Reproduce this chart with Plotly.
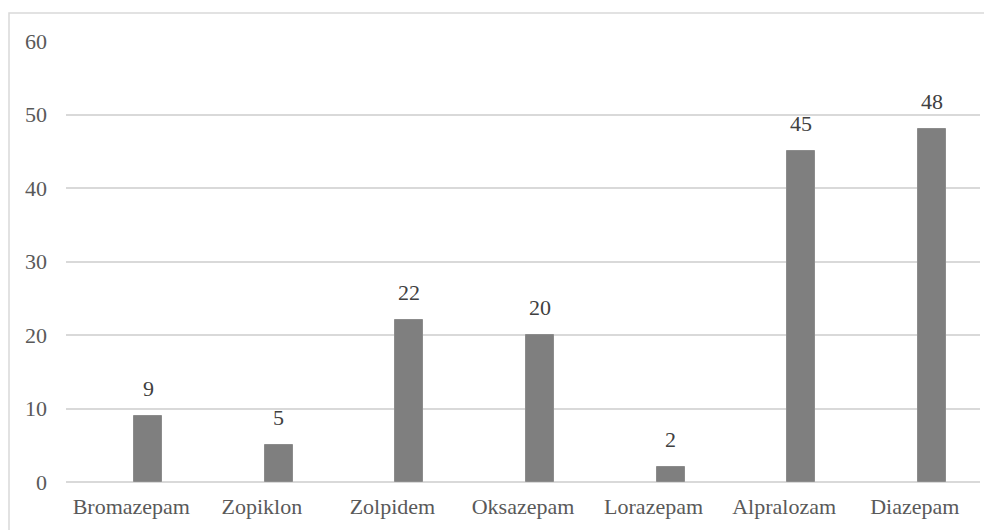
import plotly.graph_objects as go

categories = ["Bromazepam", "Zopiklon", "Zolpidem", "Oksazepam", "Lorazepam", "Alpralozam", "Diazepam"]
values = [9, 5, 22, 20, 2, 45, 48]
y_ticks = [0, 10, 20, 30, 40, 50, 60]

FONT = "'Liberation Serif', 'Times New Roman', serif"
BAR_W = 0.214
BAR_OFF = 0.023

fig = go.Figure()
fig.add_trace(go.Bar(
    x=categories, y=values,
    width=BAR_W, offset=BAR_OFF,
    marker=dict(color="#7f7f7f", line=dict(color="#8c8c8c", width=1)),
    hoverinfo="x+y",
))

for i, v in enumerate(values):
    fig.add_annotation(
        x=i + BAR_OFF + BAR_W / 2, y=v, xref="x", yref="y",
        text=str(v), showarrow=False, yanchor="bottom", yshift=13,
        font=dict(family=FONT, size=22, color="#404040"),
    )

fig.add_shape(type="rect", xref="paper", yref="paper",
              x0=(9 - 66) / 914, x1=1.2, y0=-0.3, y1=(482 - 13) / 441,
              line=dict(color="#d9d9d9", width=1.5), fillcolor="rgba(0,0,0,0)", layer="below")

fig.update_layout(
    width=984, height=522,
    margin=dict(l=58, r=12, t=33, b=48),
    paper_bgcolor="white", plot_bgcolor="white",
    showlegend=False,
    font=dict(family=FONT, size=22, color="#595959"),
    bargap=0,
    xaxis=dict(range=[-0.5, 6.5], showgrid=False, showline=False, zeroline=False,
               ticks="", ticklabelstandoff=9, tickfont=dict(family=FONT, size=22, color="#595959")),
    yaxis=dict(range=[0, 60], tickvals=y_ticks, showgrid=True, gridcolor="#d9d9d9", gridwidth=1.5,
               zeroline=True, zerolinecolor="#d9d9d9", zerolinewidth=1.5, showline=False,
               ticks="", ticklabelstandoff=18, tickfont=dict(family=FONT, size=22, color="#595959")),
)

fig.write_html("out.html")
